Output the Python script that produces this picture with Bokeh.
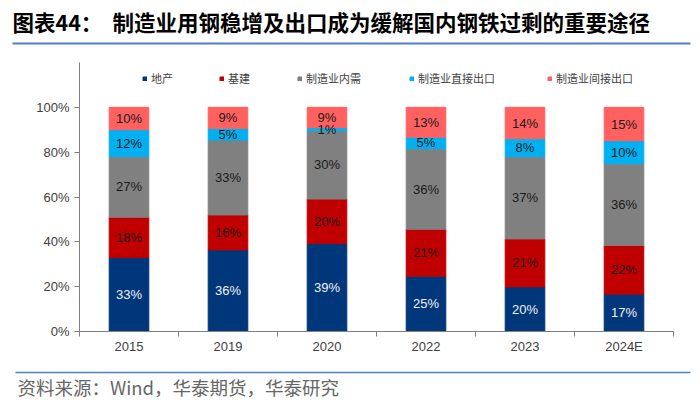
from bokeh.plotting import figure
from bokeh.models import (ColumnDataSource, FixedTicker, Legend, LegendItem,
                          Range1d, PrintfTickFormatter)
from bokeh.core.properties import value
from bokeh.embed import file_html
from bokeh.resources import INLINE

# ---- data ----
years = ["2015", "2019", "2020", "2022", "2023", "2024E"]
real_estate = [33.0, 36.4, 39.3, 24.7, 19.9, 16.7]
infrastructure = [18.0, 15.6, 19.8, 20.9, 21.4, 21.7]
mfg_domestic = [27.0, 33.4, 30.4, 35.9, 36.7, 36.4]
mfg_direct_export = [12.0, 5.2, 1.4, 5.2, 8.0, 10.3]
mfg_indirect_export = [10.0, 9.4, 9.1, 13.3, 14.0, 14.9]
series_names = ["地产", "基建", "制造业内需", "制造业直接出口", "制造业间接出口"]
y_ticks = [0, 20, 40, 60, 80, 100]

title_prefix = "图表44："
title_text = "制造业用钢稳增及出口成为缓解国内钢铁过剩的重要途径"
source_text = "资料来源：Wind，华泰期货，华泰研究"

colors = ["#00367A", "#C00000", "#808080", "#00B0F0", "#FF6161"]
label_colors = ["#F2F2F2", "#1A1A1A", "#1A1A1A", "#1A1A1A", "#1A1A1A"]
series = [real_estate, infrastructure, mfg_domestic, mfg_direct_export, mfg_indirect_export]
keys = ["s0", "s1", "s2", "s3", "s4"]

# ---- layout (page pixels) ----
W, H = 692, 400
AX_L, AX_R = 79, 673        # x axis extent
AX_B, AX_T = 331, 62        # y = 0 and y = Y_MAX
Y_MAX = 120
N = len(years)
sx = (AX_R - AX_L) / N
sy = (AX_B - AX_T) / Y_MAX


def px_to_x(px):
    return (px - AX_L) / sx


def py_to_y(py):
    return (AX_B - py) / sy


LINE_BLUE = "#4F7FC0"

p = figure(width=W, height=H, output_backend="svg", toolbar_location=None,
           x_range=Range1d(px_to_x(0), px_to_x(W)), y_range=Range1d(py_to_y(H), py_to_y(0)),
           min_border=0, min_border_left=0, min_border_right=0,
           min_border_top=0, min_border_bottom=0,
           background_fill_color="white", border_fill_color="white", outline_line_color=None)
p.xgrid.visible = False
p.ygrid.visible = False

# ---- bars ----
xs = [i + 0.5 for i in range(N)]
data = {"x": xs}
for k, s in zip(keys, series):
    data[k] = s
source = ColumnDataSource(data)
renderers = p.vbar_stack(keys, x="x", width=0.4, color=colors, source=source)

lx, ly, lt, lc = [], [], [], []
bottoms = [0.0] * N
for si, s in enumerate(series):
    for i, v in enumerate(s):
        lx.append(xs[i])
        ly.append(bottoms[i] + v / 2.0)
        lt.append(f"{int(round(v))}%")
        lc.append(label_colors[si])
        bottoms[i] += v
lsrc = ColumnDataSource(dict(x=lx, y=ly, t=lt, c=lc))
p.text(x="x", y="y", text="t", text_color="c", source=lsrc,
       text_align="center", text_baseline="middle",
       text_font=value("Liberation Sans"), text_font_size="13px")

# ---- axes ----
p.yaxis.fixed_location = 0
p.yaxis.bounds = (0, Y_MAX)
p.yaxis.ticker = FixedTicker(ticks=y_ticks)
p.yaxis.formatter = PrintfTickFormatter(format="%d%%")
p.yaxis.major_tick_out = 5
p.yaxis.major_tick_in = 0
p.yaxis.minor_tick_out = 0
p.yaxis.minor_tick_in = 0
p.yaxis.major_label_standoff = 5
p.yaxis.axis_line_color = "#7F7F7F"
p.yaxis.major_tick_line_color = "#7F7F7F"
p.yaxis.major_label_text_font = "Liberation Sans"
p.yaxis.major_label_text_font_size = "13px"
p.yaxis.major_label_text_color = "#404040"

p.xaxis.fixed_location = 0
p.xaxis.bounds = (0, N)
p.xaxis.ticker = FixedTicker(ticks=xs, minor_ticks=list(range(N + 1)))
p.xaxis.major_label_overrides = {x: y for x, y in zip(xs, years)}
p.xaxis.major_tick_out = 0
p.xaxis.major_tick_in = 0
p.xaxis.minor_tick_out = 5
p.xaxis.minor_tick_in = 0
p.xaxis.minor_tick_line_color = "#7F7F7F"
p.xaxis.axis_line_color = "#7F7F7F"
p.xaxis.major_label_standoff = 2
p.xaxis.major_label_text_font = "Liberation Sans"
p.xaxis.major_label_text_font_size = "13px"
p.xaxis.major_label_text_color = "#404040"

# ---- legends ----
leg_px = [142, 219, 297, 409, 547]
leg_bottom = H - 86
for r, name, lxp in zip(renderers, series_names, leg_px):
    leg = Legend(items=[LegendItem(label=name, renderers=[r])], location=(lxp, leg_bottom),
                 orientation="horizontal", glyph_width=5, glyph_height=5, label_height=12,
                 label_standoff=4, padding=0, margin=0, spacing=0,
                 border_line_color=None, background_fill_alpha=0,
                 label_text_font="Noto Sans CJK SC", label_text_font_size="11px",
                 label_text_color="#404040")
    p.add_layout(leg)

# ---- title ----
p.text(x=[px_to_x(12)], y=[py_to_y(21)], text=[title_prefix], text_font=value("Noto Sans CJK SC"),
       text_font_style="bold", text_font_size="21.5px", text_color="#000000",
       text_baseline="middle", text_align="left")
p.text(x=[px_to_x(112)], y=[py_to_y(21)], text=[title_text], text_font=value("Noto Sans CJK SC"),
       text_font_style="bold", text_font_size="21.5px", text_color="#000000",
       text_baseline="middle", text_align="left")
p.segment(x0=[px_to_x(12)], y0=[py_to_y(43)], x1=[px_to_x(690)], y1=[py_to_y(43)],
          line_color=LINE_BLUE, line_width=2)

# ---- footer ----
p.segment(x0=[px_to_x(15)], y0=[py_to_y(372)], x1=[px_to_x(690)], y1=[py_to_y(372)],
          line_color=LINE_BLUE, line_width=1.5)
p.text(x=[px_to_x(17)], y=[py_to_y(386)], text=[source_text], text_font=value("Noto Sans CJK SC"),
       text_font_size="18.5px", text_color="#666666",
       text_baseline="middle", text_align="left")

open("out.html", "w").write(file_html(p, INLINE))
